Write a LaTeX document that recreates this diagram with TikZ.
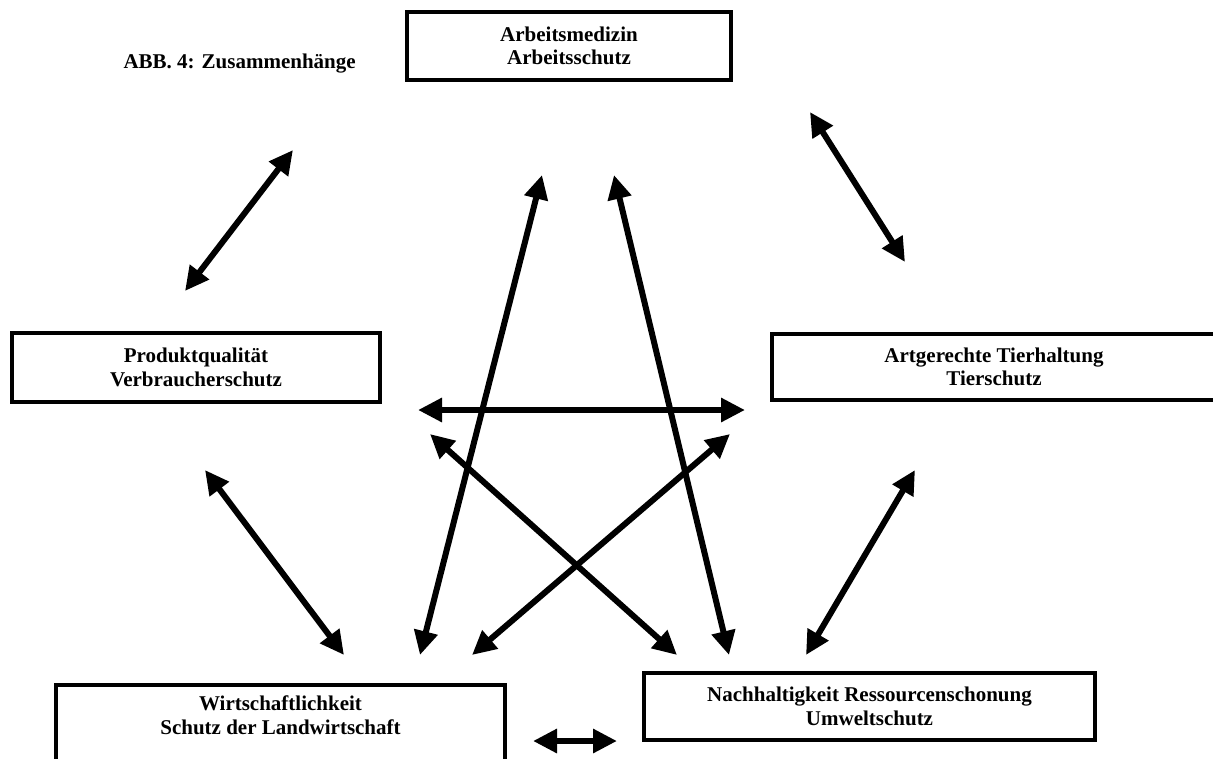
\documentclass[tikz,border=0pt]{standalone}
\usepackage{fontspec}
\setmainfont{Liberation Serif}
\usetikzlibrary{
  arrows.meta,
  positioning
}
\tikzset{
    themtext/.style={align=center, inner sep=0pt, font=\fontsize{21}{23.5}\selectfont\bfseries},
    themabox/.style={themtext, draw, line width=3.5pt},
    pfeil/.style={line width=6pt, {Triangle[length=24pt,width=23pt]}-{Triangle[length=24pt,width=23pt]}}
}

\begin{document}
\begin{tikzpicture}[x=1pt, y=-1pt]
    \useasboundingbox (0,0) rectangle (1213,758);
    % Titel
    \node[anchor=base west, font=\fontsize{21}{24}\selectfont\bfseries] (titel) at (120,68) {ABB. 4: Zusammenhänge};
    % Themen
    \node[themabox, minimum width=324pt, minimum height=68pt] (arbeit) at (569,46) {Arbeitsmedizin\\Arbeitsschutz};
    \node[themabox, minimum width=368pt, minimum height=69pt] (produkt) at (196,367.5) {Produktqualität\\Verbraucherschutz};
    \node[themabox, minimum width=444pt, minimum height=66pt] (tier) at (994,367) {Artgerechte Tierhaltung\\Tierschutz};
    \node[themabox, minimum width=449pt, minimum height=110pt, anchor=north] (wirt) at (280.5,683) {};
    \node[themtext, below=13pt of wirt.north] (wirttext) {Wirtschaftlichkeit\\Schutz der Landwirtschaft};
    \node[themabox, minimum width=451pt, minimum height=67pt] (nach) at (869.5,706.5) {Nachhaltigkeit Ressourcenschonung\\Umweltschutz};
    % Pfeilenden
    \coordinate (ap1) at (293,150);  \coordinate (ap2) at (185,291);
    \coordinate (at1) at (810,112);  \coordinate (at2) at (905,262);
    \coordinate (pt1) at (418,410);  \coordinate (pt2) at (745,410);
    \coordinate (pw1) at (205,470);  \coordinate (pw2) at (344,655);
    \coordinate (tn1) at (915,470);  \coordinate (tn2) at (806,655);
    \coordinate (wn1) at (533,741);  \coordinate (wn2) at (617,741);
    \coordinate (wa1) at (420,655);  \coordinate (wa2) at (542,175);
    \coordinate (na1) at (729,655);  \coordinate (na2) at (614,175);
    \coordinate (pn1) at (430,434);  \coordinate (pn2) at (677,655);
    \coordinate (tw1) at (730,434);  \coordinate (tw2) at (472,655);
    % Zusammenhaenge
    \foreach \a/\b in {ap1/ap2, at1/at2, pt1/pt2, pw1/pw2, tn1/tn2, wn1/wn2, wa1/wa2, na1/na2, pn1/pn2, tw1/tw2}
        \draw[pfeil] (\a) -- (\b);
\end{tikzpicture}
\end{document}
